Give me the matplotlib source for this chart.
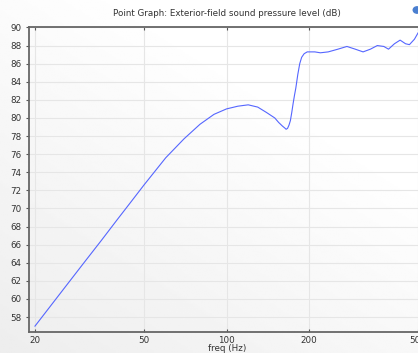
import matplotlib
matplotlib.use("Agg")
import matplotlib.pyplot as plt
import numpy as np

# values
freq = [20, 25, 30, 35, 40, 45, 50, 60, 70, 80, 90, 100, 110, 120, 130, 140,
        150, 155, 160, 163, 165, 167, 169, 171, 173, 175, 177, 179, 182, 185,
        188, 192, 197, 210, 220, 235, 255, 275, 295, 315, 335, 355, 375, 390,
        410, 430, 450, 465, 485, 500]
spl = [57.0, 60.8, 63.9, 66.5, 68.8, 70.8, 72.6, 75.6, 77.7, 79.3, 80.4, 81.0,
       81.3, 81.45, 81.2, 80.6, 80.0, 79.5, 79.1, 78.9, 78.75, 78.85, 79.2,
       79.7, 80.6, 81.6, 82.5, 83.3, 84.8, 86.0, 86.7, 87.1, 87.3, 87.3, 87.2,
       87.3, 87.6, 87.9, 87.6, 87.3, 87.6, 88.0, 87.9, 87.6, 88.2, 88.6, 88.2,
       88.1, 88.7, 89.4]

xticks = [20, 50, 100, 200, 500]
yticks = list(range(58, 91, 2))

title = "Point Graph: Exterior-field sound pressure level (dB)"
xlabel = "freq (Hz)"

fig = plt.figure(figsize=(4.18, 3.53), dpi=100)

# light grey gradient behind everything (COMSOL style)
bg = fig.add_axes([0, 0, 1, 1], zorder=-1)
gx, gy = np.meshgrid(np.linspace(0, 1, 200), np.linspace(0, 1, 200))
shade = 0.93 + 0.07 * np.clip(0.6 * gx + 0.8 * gy, 0, 1)
bg.imshow(shade, cmap="gray", vmin=0, vmax=1, origin="lower",
          extent=[0, 1, 0, 1], aspect="auto")
bg.axis("off")

ax = fig.add_axes([29 / 418, 21 / 353, 396 / 418, 305 / 353])
ax.set_facecolor("none")
ax.plot(freq, spl, color="#5566ff", lw=0.8)

ax.set_xscale("log")
ax.set_xlim(19.02, 530)
ax.set_ylim(56.35, 90.05)
ax.set_xticks(xticks)
ax.set_xticklabels([str(t) for t in xticks])
ax.xaxis.set_minor_locator(matplotlib.ticker.NullLocator())
ax.set_yticks(yticks)

ax.grid(True, color="#e6e6e6", lw=0.8)
ax.tick_params(length=2.5, width=0.8, colors="#555555", labelsize=6.3,
               labelcolor="#333333", pad=3)
ax.tick_params(axis="x", direction="in", top=True)
ax.tick_params(axis="y", direction="out")
for s in ax.spines.values():
    s.set_color("#666666")
    s.set_linewidth(1.3)

ax.set_title(title, fontsize=6.3, color="#333333", pad=8)
ax.set_xlabel(xlabel, fontsize=6.3, color="#333333", labelpad=-1)

# partial toolbar icon in the top right corner
fig.patches.append(matplotlib.patches.Circle((417 / 418, 1 - 10 / 353), 0.009,
                                             transform=fig.transFigure,
                                             color="#4a7fd0", zorder=5))

fig.savefig("out.png", dpi=100)
